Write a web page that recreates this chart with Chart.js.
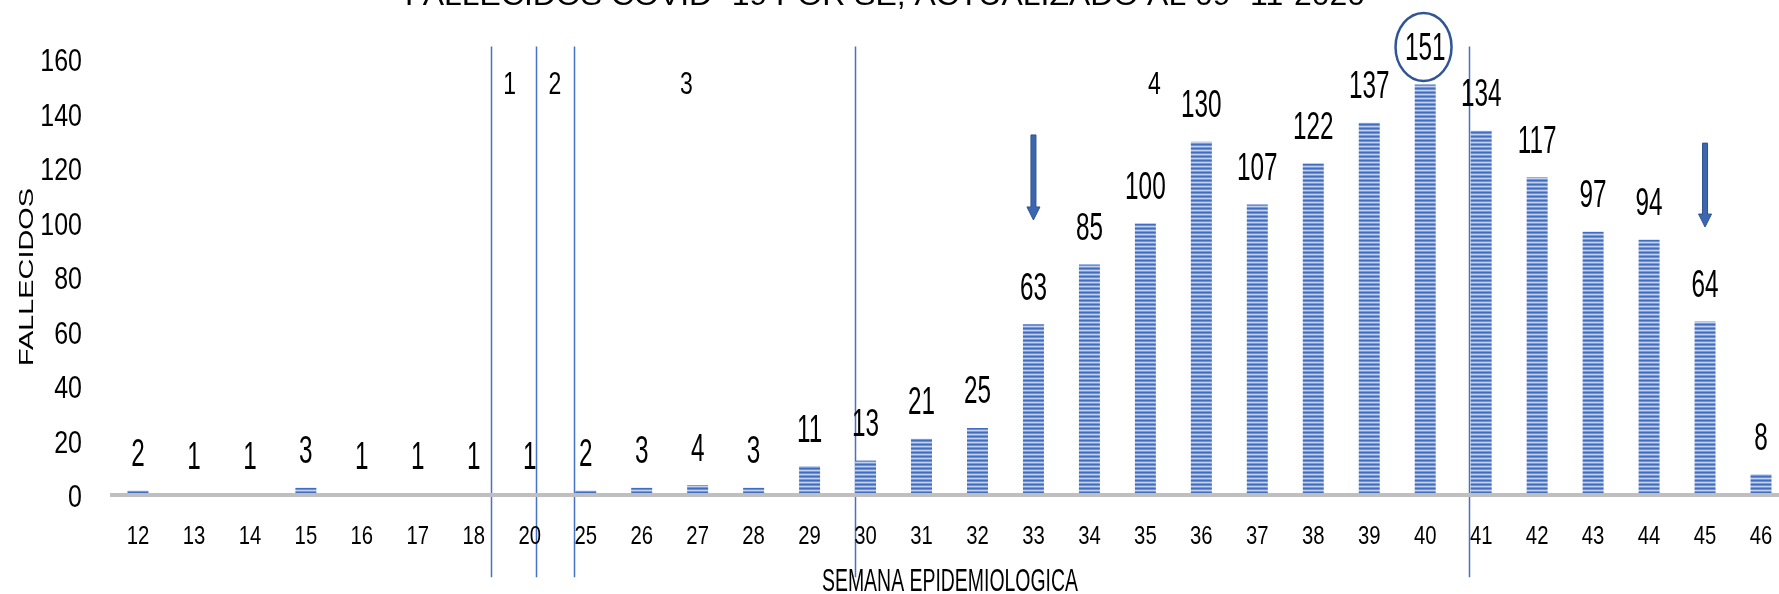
<!DOCTYPE html>
<html>
<head>
<meta charset="utf-8">
<script src="https://cdn.jsdelivr.net/npm/chart.js@4.4.1/dist/chart.umd.min.js"></script>
<style>
  html, body { margin: 0; padding: 0; background: #fff; overflow: hidden; }
  #wrap { position: relative; width: 1779px; height: 594px; overflow: hidden; }
  canvas { position: absolute; left: 0; top: 0; }
</style>
</head>
<body>
<div id="wrap"><canvas id="chart" width="1800" height="594"></canvas></div>
<script>
// data
const weeks = ['12', '13', '14', '15', '16', '17', '18', '20', '25', '26', '27', '28', '29', '30', '31',
               '32', '33', '34', '35', '36', '37', '38', '39', '40', '41', '42', '43', '44', '45', '46'];
const deaths = [2, 1, 1, 3, 1, 1, 1, 1, 2, 3, 4, 3, 11, 13, 21,
                25, 63, 85, 100, 130, 107, 122, 137, 151, 134, 117, 97, 94, 64, 8];
const yTicks = [0, 20, 40, 60, 80, 100, 120, 140, 160];
const periodLabels = ['1', '2', '3', '4'];
const arrowWeeks = ['33', '45'];
const peakWeek = '40';

const chartTitle = 'FALLECIDOS COVID -19 POR SE, ACTUALIZADO AL 09 -11-2020';
const xTitle = 'SEMANA EPIDEMIOLOGICA';
const yTitle = 'FALLECIDOS';

// annotation placement (category index / value units)
const periodLinePos = [6.30, 7.12, 7.79, 12.82, 23.79];
const periodLabelPos = [6.64, 7.45, 9.80, 18.16];
const arrowSpans = [[132.5, 101.3], [129.5, 98.7]];

const FONT = '"Liberation Sans", Arial, sans-serif';
const BLUE = '#4472c4';

function stripePattern() {
    const c = document.createElement('canvas');
    c.width = 4;
    c.height = 4;
    const g = c.getContext('2d');
    const rows = ['#3f6dc0', '#6f90d1', '#c3d1ee', '#7b9ad5'];
    rows.forEach((col, i) => {
        g.fillStyle = col;
        g.fillRect(0, i, 4, 1);
    });
    return g.createPattern(c, 'repeat');
}

// draws text squeezed/stretched horizontally, y is the visual centre of capitals
function drawText(ctx, text, x, y, size, sx, align) {
    ctx.save();
    ctx.font = size + 'px ' + FONT;
    ctx.textAlign = align || 'center';
    ctx.textBaseline = 'alphabetic';
    ctx.fillStyle = '#000';
    ctx.translate(x, y);
    ctx.scale(sx, 1);
    ctx.fillText(text, 0, size * 0.358);
    ctx.restore();
}

function fitScale(ctx, text, size, width) {
    ctx.font = size + 'px ' + FONT;
    return width / ctx.measureText(text).width;
}

const decorations = {
    id: 'decorations',
    beforeDatasetsDraw(chart) {
        const {ctx, scales: {x, y}} = chart;
        // period separators
        ctx.save();
        ctx.strokeStyle = BLUE;
        ctx.lineWidth = 1.5;
        periodLinePos.forEach(p => {
            const px = Math.round(x.getPixelForValue(p)) + 0.5;
            ctx.beginPath();
            ctx.moveTo(px, y.getPixelForValue(165));
            ctx.lineTo(px, y.getPixelForValue(-29.8));
            ctx.stroke();
        });
        ctx.restore();
    },
    afterDatasetsDraw(chart) {
        const {ctx, chartArea, scales: {x, y}} = chart;

        // base axis line
        ctx.save();
        ctx.strokeStyle = '#bfbfbf';
        ctx.lineWidth = 4;
        const y0 = y.getPixelForValue(0) - 1;
        ctx.beginPath();
        ctx.moveTo(chartArea.left, y0);
        ctx.lineTo(chartArea.right, y0);
        ctx.stroke();
        ctx.restore();

        // y ticks
        yTicks.forEach(v => {
            drawText(ctx, String(v), 82, y.getPixelForValue(v), 32, 0.78, 'right');
        });

        // x ticks
        weeks.forEach((w, i) => {
            drawText(ctx, w, x.getPixelForValue(i), 535, 26, 0.78, 'center');
        });

        // value labels
        deaths.forEach((v, i) => {
            drawText(ctx, String(v), x.getPixelForValue(i), y.getPixelForValue(v) - 38, 38, 0.64, 'center');
        });

        // period numbers
        periodLabels.forEach((t, i) => {
            drawText(ctx, t, x.getPixelForValue(periodLabelPos[i]), y.getPixelForValue(151.6), 32, 0.72, 'center');
        });

        // arrows
        ctx.save();
        arrowWeeks.forEach((w, i) => {
            const ax = x.getPixelForValue(weeks.indexOf(w));
            const top = y.getPixelForValue(arrowSpans[i][0]);
            const tip = y.getPixelForValue(arrowSpans[i][1]);
            ctx.fillStyle = '#3d66b0';
            ctx.strokeStyle = '#2f528f';
            ctx.lineWidth = 1;
            ctx.beginPath();
            ctx.moveTo(ax - 2.5, top);
            ctx.lineTo(ax + 2.5, top);
            ctx.lineTo(ax + 2.5, tip - 13);
            ctx.lineTo(ax + 6.5, tip - 13);
            ctx.lineTo(ax, tip);
            ctx.lineTo(ax - 6.5, tip - 13);
            ctx.lineTo(ax - 2.5, tip - 13);
            ctx.closePath();
            ctx.fill();
            ctx.stroke();
        });
        ctx.restore();

        // circle round the peak
        const pi = weeks.indexOf(peakWeek);
        ctx.save();
        ctx.strokeStyle = '#2f5597';
        ctx.lineWidth = 2.5;
        ctx.beginPath();
        ctx.ellipse(x.getPixelForValue(pi - 0.03), y.getPixelForValue(164.8), 28, 34, 0, 0, Math.PI * 2);
        ctx.stroke();
        ctx.restore();

        // titles
        drawText(ctx, chartTitle, 405, -6, 30, fitScale(ctx, chartTitle, 30, 960), 'left');
        drawText(ctx, xTitle, 950, 580, 32, fitScale(ctx, xTitle, 32, 256), 'center');
        ctx.save();
        ctx.translate(25, 277);
        ctx.rotate(-Math.PI / 2);
        drawText(ctx, yTitle, 0, 0, 21, fitScale(ctx, yTitle, 21, 178), 'center');
        ctx.restore();
    }
};

const ctx = document.getElementById('chart').getContext('2d');
new Chart(ctx, {
    type: 'bar',
    data: {
        labels: weeks,
        datasets: [{
            label: 'Fallecidos',
            data: deaths,
            backgroundColor: stripePattern(),
            borderWidth: 0,
            barPercentage: 0.75,
            categoryPercentage: 0.5
        }]
    },
    options: {
        responsive: false,
        animation: false,
        layout: { padding: { left: 110, right: 11, top: 60, bottom: 98 } },
        scales: {
            x: { display: false },
            y: { display: false, min: 0, max: 160 }
        },
        plugins: {
            legend: { display: false },
            tooltip: { enabled: false }
        }
    },
    plugins: [decorations]
});
</script>
</body>
</html>
